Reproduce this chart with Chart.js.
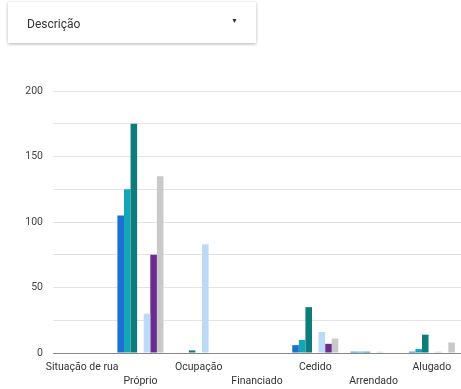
<!DOCTYPE html>
<html><head><meta charset="utf-8">
<script src="https://cdn.jsdelivr.net/npm/chart.js@4"></script>
<style>
html,body{margin:0;padding:0;background:#fff;width:461px;height:389px;overflow:hidden;font-family:Roboto,sans-serif;}
#card{position:absolute;left:8px;top:2px;width:248px;height:41px;background:#fff;box-shadow:0 1px 3px rgba(0,0,0,0.3);}
#card .t{position:absolute;left:19px;top:15px;font-size:12px;color:#333;}
#card .a{position:absolute;left:223px;top:15px;font-size:7px;color:#333;}
#wrap{position:absolute;left:0;top:0;width:461px;height:389px;}
</style></head><body>
<div id="wrap"><canvas id="c" width="461" height="389"></canvas></div>
<div id="card"><span class="t">Descrição</span><span class="a">▼</span></div>
<script>
const categories = ['Situação de rua','Próprio','Ocupação','Financiado','Cedido','Arrendado','Alugado'];
const serieAzul = [0,105,0,0,6,1,1];
const serieCiano = [0,125,0,0,10,1,3];
const serieTeal = [0,175,2,0,35,1,14];
const serieVazia = [0,0,0,0,0,0,0];
const serieAzulClaro = [0,30,83,0,16,1,1];
const serieRoxo = [0,75,0,0,7,0,0];
const serieCinza = [0,135,0,0,11,0,8];
const yTicks = [0,50,100,150,200];

const series = [serieAzul,serieCiano,serieTeal,serieVazia,serieAzulClaro,serieRoxo,serieCinza];
const colors = ['#1b6fd6','#14a6b8','#0f7c7c','#f4b400','#bcdaf5','#6a2c91','#c9c9c9'];

new Chart(document.getElementById('c'), {
  type:'bar',
  data:{labels:categories, datasets:series.map((d,i)=>({label:'Série '+(i+1),data:d,backgroundColor:colors[i],borderWidth:0,categoryPercentage:0.79,barPercentage:1.0}))},
  options:{
    responsive:false,animation:false,
    layout:{padding:{top:91,left:0,right:0,bottom:0}},
    plugins:{legend:{display:false},tooltip:{enabled:false}},
    scales:{
      x:{grid:{display:false},border:{color:'#888',width:1},
        ticks:{autoSkip:false,maxRotation:0,minRotation:0,padding:0,color:'#333',font:{family:'Roboto',size:10.5,lineHeight:1.3},
          callback:function(v,i){const l=categories[i];return i%2===1?['',l]:[l,''];}},
        afterFit:function(s){s.height=36;}},
      y:{min:0,max:200,grid:{color:'#e3e3e3',drawTicks:false},border:{display:false},
        ticks:{stepSize:25,padding:10,color:'#444',font:{family:'Roboto',size:10.5},
          callback:function(v){return yTicks.includes(v)?String(v):'';}},
        afterFit:function(s){s.width=53;}}
    }
  }
});
</script>
</body></html>
